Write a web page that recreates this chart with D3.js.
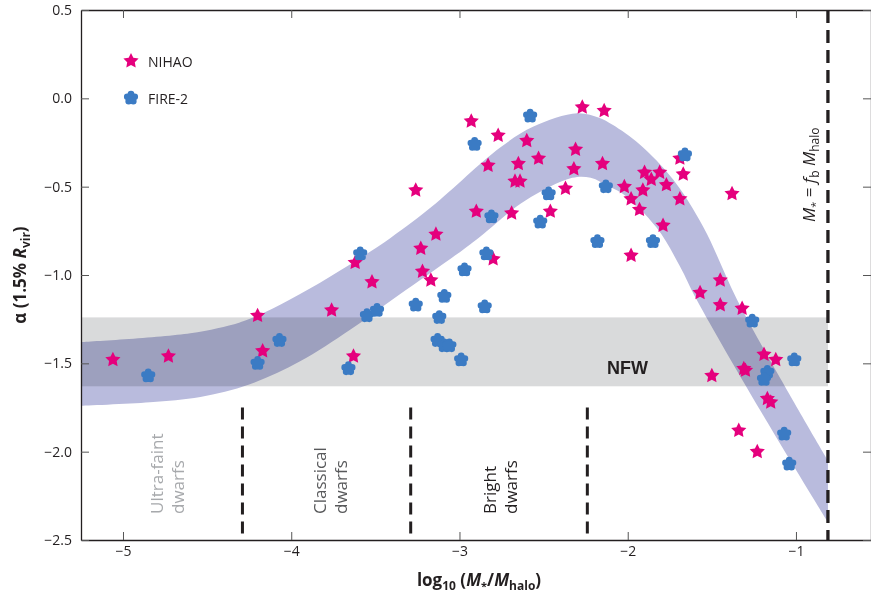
<!DOCTYPE html>
<html>
<head>
<meta charset="utf-8">
<script src="https://cdn.jsdelivr.net/npm/d3@7"></script>
<style>
  body { margin: 0; background: #fff; }
  svg { font-family: "Open Sans", "Noto Sans", sans-serif; }
</style>
</head>
<body>
<div id="chart"></div>
<script>
const width = 871;
const height = 596;
const marginTop = 10;
const marginBottom = 56;
const marginLeft = 81;
const marginRight = 0;

// NIHAO points: log10(M*/Mhalo), alpha
const nihaoX = [-5.06, -4.73, -4.20, -4.17, -3.76, -3.62, -3.52, -3.63, -3.26, -2.90, -2.69, -3.14, -3.23, -3.22, -3.17,
  -2.80, -2.93, -2.77, -2.60, -2.83, -2.65, -2.53, -2.67, -2.64, -2.27, -2.14, -2.31, -2.32, -2.15, -2.37, -2.46,
  -2.02, -1.91, -1.98, -1.93, -1.90, -1.86, -1.81, -1.77, -1.79, -1.69, -1.67, -1.69, -1.98, -1.38, -1.45, -1.57,
  -1.45, -1.32, -1.19, -1.12, -1.50, -1.31, -1.30, -1.17, -1.15, -1.34, -1.23];
const nihaoY = [-1.48, -1.46, -1.23, -1.43, -1.20, -0.93, -1.04, -1.46, -0.52, -0.64, -0.65, -0.77, -0.85, -0.98, -1.03,
  -0.91, -0.13, -0.21, -0.24, -0.38, -0.37, -0.34, -0.47, -0.47, -0.05, -0.07, -0.29, -0.40, -0.37, -0.51, -0.64,
  -0.50, -0.52, -0.57, -0.63, -0.42, -0.46, -0.42, -0.49, -0.72, -0.34, -0.43, -0.57, -0.89, -0.54, -1.03, -1.10,
  -1.17, -1.19, -1.45, -1.48, -1.57, -1.53, -1.54, -1.70, -1.72, -1.88, -2.00];

// FIRE-2 points
const fireX = [-4.85, -4.20, -4.07, -3.59, -3.55, -3.49, -3.66, -2.81, -2.84, -2.97, -3.09, -3.26, -2.85, -3.12, -3.13,
  -3.09, -3.06, -2.99, -2.58, -2.91, -2.47, -2.52, -2.18, -2.13, -1.66, -1.85, -1.26, -1.01, -1.17, -1.19, -1.07, -1.04];
const fireY = [-1.57, -1.50, -1.37, -0.88, -1.23, -1.20, -1.53, -0.67, -0.88, -0.97, -1.12, -1.17, -1.18, -1.24, -1.37,
  -1.40, -1.40, -1.48, -0.10, -0.26, -0.54, -0.70, -0.81, -0.50, -0.32, -0.81, -1.26, -1.48, -1.55, -1.59, -1.90, -2.07];

// shaded model band, upper and lower edges
const bandUpX = [-5.25, -4.60, -4.31, -4.20, -4.01, -3.77, -3.41, -3.16, -2.76, -2.56, -2.30, -2.17, -2.09, -1.93, -1.73, -1.55, -1.35, -1.09, -0.81];
const bandUpY = [-1.38, -1.33, -1.27, -1.23, -1.14, -1.01, -0.79, -0.61, -0.28, -0.16, -0.085, -0.11, -0.15, -0.26, -0.46, -0.73, -1.14, -1.59, -2.05];
const bandLoX = [-5.25, -4.84, -4.54, -4.25, -3.95, -3.65, -3.40, -3.07, -2.90, -2.61, -2.33, -2.22, -2.11, -2.03, -1.83, -1.69, -1.59, -1.21, -0.81];
const bandLoY = [-1.74, -1.72, -1.69, -1.62, -1.49, -1.31, -1.14, -0.92, -0.80, -0.58, -0.45, -0.45, -0.50, -0.54, -0.73, -0.95, -1.14, -1.77, -2.40];

const nfwBand = [-1.24, -1.63];
const dwarfBounds = [-4.29, -3.29, -2.24];
const dwarfTop = -1.75;
const fbLine = -0.81;

const xTicks = [-5, -4, -3, -2, -1];
const yTicks = [0.5, 0.0, -0.5, -1.0, -1.5, -2.0, -2.5];

const ink = "#231f20";
const pink = "#e5007d";
const blue = "#3b7bc4";

const svg = d3.select("#chart").append("svg")
  .attr("width", width)
  .attr("height", height);

const x = d3.scaleLinear()
  .domain([-5.2496, -0.554])
  .range([marginLeft, width - marginRight]);

const y = d3.scaleLinear()
  .domain([-2.5, 0.5])
  .range([height - marginBottom, marginTop]);

// NFW grey band
svg.append("rect")
  .attr("x", x(x.domain()[0]))
  .attr("y", y(nfwBand[0]))
  .attr("width", x(fbLine) - x(x.domain()[0]))
  .attr("height", y(nfwBand[1]) - y(nfwBand[0]))
  .attr("fill", "#d9dadb");

// model band
const edge = d3.line().curve(d3.curveCatmullRom)
  .x(d => x(d[0])).y(d => y(d[1]));
const upPts = d3.zip(bandUpX, bandUpY);
const loPts = d3.zip(bandLoX, bandLoY).reverse();
svg.append("path")
  .attr("d", edge(upPts) + edge(loPts).replace(/^M/, "L") + "Z")
  .attr("fill", "#b9bbdd")
  .style("mix-blend-mode", "multiply");

// dwarf class separators
svg.selectAll(".sep")
  .data(dwarfBounds)
  .enter().append("line")
  .attr("class", "sep")
  .attr("x1", d => x(d)).attr("x2", d => x(d))
  .attr("y1", y(dwarfTop)).attr("y2", y(-2.5))
  .attr("stroke", ink)
  .attr("stroke-width", 3)
  .attr("stroke-dasharray", "12,7");

svg.append("line")
  .attr("x1", x(fbLine)).attr("x2", x(fbLine))
  .attr("y1", y(0.5)).attr("y2", y(-2.5))
  .attr("stroke", ink)
  .attr("stroke-width", 3.3)
  .attr("stroke-dasharray", "13,7");

// axes
const styleAxis = g => {
  g.select(".domain").attr("stroke", ink).attr("stroke-width", 1.3);
  g.selectAll(".tick line").attr("stroke", "#555").attr("stroke-width", 1);
  g.selectAll(".tick text").attr("fill", ink).style("font-size", "14px")
    .style("font-family", "'Open Sans', sans-serif");
};

svg.append("g")
  .attr("transform", `translate(0,${height - marginBottom})`)
  .call(d3.axisBottom(x).tickValues(xTicks).tickSize(-8).tickSizeOuter(0).tickPadding(6)
    .tickFormat(d3.format("d")))
  .call(styleAxis);

svg.append("g")
  .attr("transform", `translate(0,${marginTop})`)
  .call(d3.axisTop(x).tickValues(xTicks).tickSize(-8).tickSizeOuter(0).tickFormat(""))
  .call(styleAxis);

svg.append("g")
  .attr("transform", `translate(${marginLeft},0)`)
  .call(d3.axisLeft(y).tickValues(yTicks).tickSize(-8).tickSizeOuter(0).tickPadding(9)
    .tickFormat(d3.format(".1f")))
  .call(styleAxis);

svg.append("g")
  .attr("transform", `translate(${width - marginRight},0)`)
  .call(d3.axisRight(y).tickValues(yTicks).tickSize(-8).tickSizeOuter(0).tickFormat(""))
  .call(styleAxis);

// markers
const starSym = {
  draw(ctx, size) {
    const R = Math.sqrt(size) / 2, r = R * 0.5;
    for (let i = 0; i < 10; i++) {
      const a = -Math.PI / 2 + i * Math.PI / 5;
      const rr = i % 2 ? r : R;
      if (i === 0) ctx.moveTo(rr * Math.cos(a), rr * Math.sin(a));
      else ctx.lineTo(rr * Math.cos(a), rr * Math.sin(a));
    }
    ctx.closePath();
  }
};
const flowerSym = {
  draw(ctx, size) {
    const R = Math.sqrt(size) / 2;
    ctx.moveTo(R * 0.66, 0);
    ctx.arc(0, 0, R * 0.66, 0, 2 * Math.PI);
    for (let i = 0; i < 5; i++) {
      const a = -Math.PI / 2 + i * 2 * Math.PI / 5;
      const cx = 0.5 * R * Math.cos(a), cy = 0.5 * R * Math.sin(a);
      ctx.moveTo(cx + 0.42 * R, cy);
      ctx.arc(cx, cy, 0.42 * R, 0, 2 * Math.PI);
    }
  }
};
const star = d3.symbol().type(starSym).size(256);
const flower = d3.symbol().type(flowerSym).size(250);

svg.append("g").selectAll("path")
  .data(d3.zip(nihaoX, nihaoY))
  .enter().append("path")
  .attr("d", star)
  .attr("transform", d => `translate(${x(d[0])},${y(d[1])})`)
  .attr("fill", pink);

svg.append("g").selectAll("path")
  .data(d3.zip(fireX, fireY))
  .enter().append("path")
  .attr("d", flower)
  .attr("transform", d => `translate(${x(d[0])},${y(d[1])})`)
  .attr("fill", blue);

// legend
const legend = svg.append("g").attr("transform", "translate(131,61)");
legend.append("path").attr("d", star).attr("fill", pink);
legend.append("text").attr("x", 17).attr("y", 5.5).text("NIHAO")
  .style("font-size", "14px").attr("fill", ink);
legend.append("path").attr("d", flower).attr("fill", blue).attr("transform", "translate(0,37)");
legend.append("text").attr("x", 17).attr("y", 42.5).text("FIRE-2")
  .style("font-size", "14px").attr("fill", ink);

// class labels
const classLabels = [
  { lines: ["Ultra-faint", "dwarfs"], xpos: 163, color: "#a7a9ac" },
  { lines: ["Classical", "dwarfs"], xpos: 326, color: "#58595b" },
  { lines: ["Bright", "dwarfs"], xpos: 496, color: ink }
];
classLabels.forEach(c => {
  c.lines.forEach((t, i) => {
    svg.append("text")
      .attr("transform", `translate(${c.xpos + i * 21},514) rotate(-90)`)
      .text(t)
      .attr("fill", c.color)
      .style("font-size", "17px");
  });
});

svg.append("text")
  .attr("x", 607).attr("y", 374)
  .text("NFW")
  .attr("fill", ink)
  .style("font-size", "18px")
  .style("font-weight", "bold")
  .style("font-family", "'Liberation Sans', Arial, sans-serif");

// M* = fb Mhalo label
const fbText = svg.append("text")
  .attr("transform", "translate(815,222) rotate(-90)")
  .attr("fill", ink)
  .style("font-size", "17px");
fbText.append("tspan").text("M").style("font-style", "italic");
fbText.append("tspan").text("*").attr("dy", 4).style("font-size", "11px");
fbText.append("tspan").text(" = ").attr("dy", -4);
fbText.append("tspan").text("f").style("font-style", "italic");
fbText.append("tspan").text("b").attr("dy", 4).style("font-size", "12px");
fbText.append("tspan").text(" M").attr("dy", -4).style("font-style", "italic");
fbText.append("tspan").text("halo").attr("dy", 4).style("font-size", "12px");

// axis titles
const xl = svg.append("text")
  .attr("x", 479).attr("y", 586)
  .attr("text-anchor", "middle")
  .attr("fill", ink)
  .style("font-size", "17px")
  .style("font-weight", "bold");
xl.append("tspan").text("log");
xl.append("tspan").text("10").attr("dy", 4).style("font-size", "12px");
xl.append("tspan").text(" (").attr("dy", -4);
xl.append("tspan").text("M").style("font-style", "italic");
xl.append("tspan").text("*").attr("dy", 4).style("font-size", "11px");
xl.append("tspan").text("/").attr("dy", -4);
xl.append("tspan").text("M").style("font-style", "italic");
xl.append("tspan").text("halo").attr("dy", 4).style("font-size", "12px");
xl.append("tspan").text(")").attr("dy", -4);

const yl = svg.append("text")
  .attr("transform", `translate(26,${(marginTop + height - marginBottom) / 2}) rotate(-90)`)
  .attr("text-anchor", "middle")
  .attr("fill", ink)
  .style("font-size", "17px")
  .style("font-weight", "bold");
yl.append("tspan").text("α (1.5% ");
yl.append("tspan").text("R").style("font-style", "italic");
yl.append("tspan").text("vir").attr("dy", 4).style("font-size", "12px");
yl.append("tspan").text(")").attr("dy", -4);
</script>
</body>
</html>
